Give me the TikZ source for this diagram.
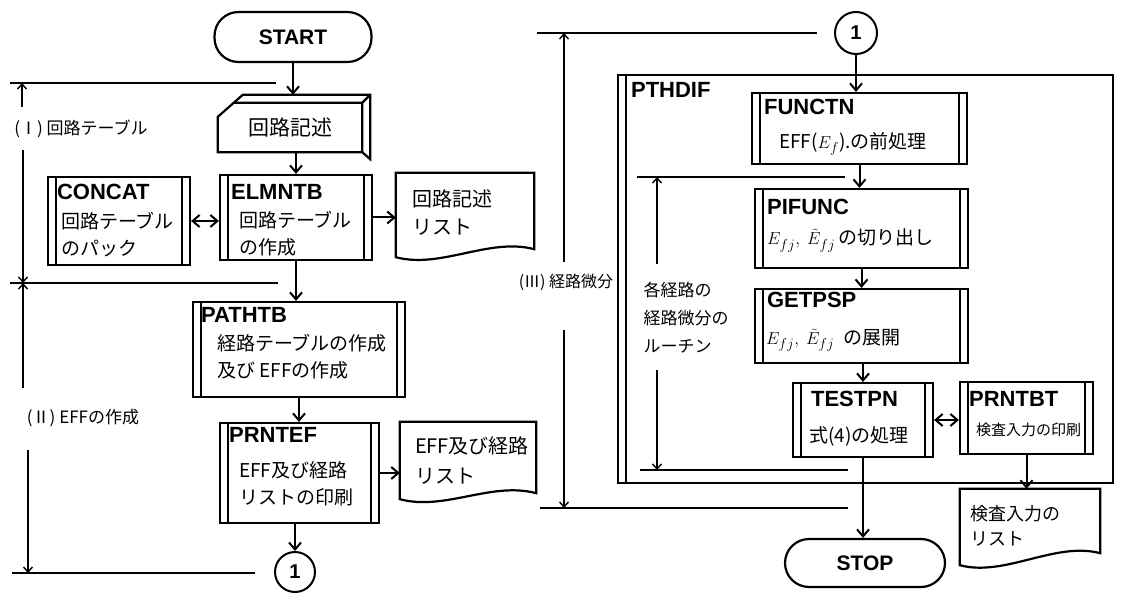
\documentclass[tikz,border=0pt]{standalone}
\usepackage{fontspec}
\setmainfont{Noto Sans CJK JP}
\newfontfamily\nmfont{Liberation Sans}
\usetikzlibrary{arrows.meta}

\begin{document}
\begin{tikzpicture}[x=1pt,y=-1pt,
  shp/.style={line width=2.2pt},
  box/.style={draw,line width=2.2pt,inner sep=0pt},
  pbox/.style={box,path picture={
    \draw[line width=2.2pt] ([xshift=8pt]path picture bounding box.north west) -- ([xshift=8pt]path picture bounding box.south west)
      ([xshift=-8pt]path picture bounding box.north east) -- ([xshift=-8pt]path picture bounding box.south east);}},
  term/.style={box,rounded corners=24pt,font=\nmfont\bfseries\fontsize{21}{21}\selectfont},
  con/.style={circle,draw,line width=2pt,inner sep=0pt,font=\nmfont\bfseries\fontsize{20}{20}\selectfont},
  nm/.style={anchor=north west,inner sep=0pt,font=\nmfont\bfseries\fontsize{22}{22}\selectfont},
  jp/.style={anchor=north west,inner sep=0pt,align=left,font=\fontsize{19}{27}\selectfont},
  lbl/.style={inner sep=0pt,font=\fontsize{17}{28}\selectfont},
  flow/.style={line width=2pt,-{Straight Barb[length=7pt,width=12pt]}},
  dflow/.style={line width=2pt,{Straight Barb[length=7pt,width=12pt]}-{Straight Barb[length=7pt,width=12pt]}},
  dim/.style={line width=1.4pt,-{Straight Barb[length=5pt,width=9pt]}},
  rule/.style={line width=1.8pt}]
\path[use as bounding box] (0,0) rectangle (1123,593);

% left column
\node[term,minimum width=157,minimum height=50] (start) at (293,37) {START};
\node[inner sep=0pt,minimum width=144,minimum height=49,font=\fontsize{21}{21}\selectfont] (kairo) at (290,127.5) {回路記述};
\draw[shp] ([yshift=-14pt]kairo.north west) -- ([shift={(25,-8)}]kairo.north west) -- ([shift={(8,-8)}]kairo.north east)
  -- ([shift={(8,7)}]kairo.south east) -- (kairo.south east) -- (kairo.south west) -- cycle;
\draw[shp] ([xshift=16pt]kairo.north west) -- (kairo.north east) -- (kairo.south east)
  (kairo.north east) -- ([shift={(8,-8)}]kairo.north east);

\node[pbox,minimum width=142,minimum height=88] (concat) at (119,221) {};
\node[nm] (concat-n) at ([shift={(10,8)}]concat.north west) {CONCAT};
\node[jp] (concat-t) at ([shift={(14,36)}]concat.north west) {回路テーブル\\のパック};

\node[pbox,minimum width=152,minimum height=85] (elmntb) at (296,217.5) {};
\node[nm] (elmntb-n) at ([shift={(12,10)}]elmntb.north west) {ELMNTB};
\node[jp] (elmntb-t) at ([shift={(20,37)}]elmntb.north west) {回路テーブル\\の作成};

\node[inner sep=0pt,minimum width=138,minimum height=78] (lst1) at (465,212) {};
\draw[shp] (lst1.north west) -- (lst1.north east) -- ([yshift=2pt]lst1.south east)
  .. controls +(-45,-12) and +(45,12) .. ([yshift=-6pt]lst1.south west) -- cycle;
\node[jp,font=\fontsize{20}{28}\selectfont] (lst1-t) at ([shift={(16,17)}]lst1.north west) {回路記述\\リスト};

\node[pbox,minimum width=212,minimum height=95] (pathtb) at (299,349.5) {};
\node[nm] (pathtb-n) at ([shift={(9,6)}]pathtb.north west) {PATHTB};
\node[jp] (pathtb-t) at ([shift={(25,33)}]pathtb.north west) {経路テーブルの作成\\及び EFFの作成};

\node[pbox,minimum width=159,minimum height=100] (prntef) at (299.5,473) {};
\node[nm] (prntef-n) at ([shift={(10,5)}]prntef.north west) {PRNTEF};
\node[jp] (prntef-t) at ([shift={(20,39)}]prntef.north west) {EFF及び経路\\リストの印刷};

\node[inner sep=0pt,minimum width=136,minimum height=70] (lst2) at (468,457) {};
\draw[shp] (lst2.north west) -- (lst2.north east) -- ([yshift=-1pt]lst2.south east)
  .. controls +(-45,-12) and +(45,12) .. ([yshift=-7pt]lst2.south west) -- cycle;
\node[jp,font=\fontsize{20}{30}\selectfont] (lst2-t) at ([shift={(15,15)}]lst2.north west) {EFF及び経路\\リスト};

\node[con,minimum size=40] (con1) at (295,572) {1};

% right column
\node[con,minimum size=42] (con2) at (856,33) {1};
\node[box,minimum width=495,minimum height=408] (pthdif) at (865.5,279) {};
\draw[shp] ([xshift=9pt]pthdif.north west) -- ([xshift=9pt]pthdif.south west);
\node[nm] (pthdif-n) at ([shift={(14,8)}]pthdif.north west) {PTHDIF};

\node[pbox,minimum width=215,minimum height=71] (functn) at (859.5,128.5) {};
\node[nm] (functn-n) at ([shift={(13,7)}]functn.north west) {FUNCTN};
\node[jp] (functn-t) at ([shift={(28,40)}]functn.north west) {EFF($E_f$).の前処理};

\node[pbox,minimum width=213,minimum height=79] (pifunc) at (861.5,228.5) {};
\node[nm] (pifunc-n) at ([shift={(13,11)}]pifunc.north west) {PIFUNC};
\node[jp] (pifunc-t) at ([shift={(13,41)}]pifunc.north west) {$E_{fj},\ \tilde{E}_{fj}$\,の切り出し};

\node[pbox,minimum width=213,minimum height=74] (getpsp) at (861.5,326) {};
\node[nm] (getpsp-n) at ([shift={(13,4)}]getpsp.north west) {GETPSP};
\node[jp] (getpsp-t) at ([shift={(12,41)}]getpsp.north west) {$E_{fj},\ \tilde{E}_{fj}$\; の展開};

\node[pbox,minimum width=140,minimum height=74] (testpn) at (863,420) {};
\node[nm] (testpn-n) at ([shift={(19,9)}]testpn.north west) {TESTPN};
\node[jp] (testpn-t) at ([shift={(17,44)}]testpn.north west) {式(4)の処理};

\node[pbox,minimum width=133,minimum height=72] (prntbt) at (1026.5,418) {};
\node[nm] (prntbt-n) at ([shift={(10,10)}]prntbt.north west) {PRNTBT};
\node[jp,font=\fontsize{15}{15}\selectfont] (prntbt-t) at ([shift={(17,42)}]prntbt.north west) {検査入力の印刷};

\node[inner sep=0pt,minimum width=140,minimum height=70] (lst3) at (1030,524) {};
\draw[shp] (lst3.north west) -- (lst3.north east) -- ([yshift=6pt]lst3.south east)
  .. controls +(-45,-12) and +(45,12) .. ([yshift=-6pt]lst3.south west) -- cycle;
\node[jp,font=\fontsize{18}{25}\selectfont] (lst3-t) at ([shift={(10,16)}]lst3.north west) {検査入力の\\リスト};

\node[term,minimum width=160,minimum height=48] (stop) at (865,563) {STOP};

% flow
\draw[flow,shorten >=8pt] (start.south) -- (start.south |- kairo.north);
\draw[flow] (elmntb.north |- kairo.south) -- (elmntb.north);
\draw[dflow] (concat.east) -- (concat.east -| elmntb.west);
\draw[flow] (elmntb.east) -- (elmntb.east -| lst1.west);
\draw[flow] (elmntb.south) -- (elmntb.south |- pathtb.north);
\draw[flow] (pathtb.south) -- (pathtb.south |- prntef.north);
\draw[flow] (prntef.east) -- (prntef.east -| lst2.west);
\draw[flow] (con1.north |- prntef.south) -- (con1.north);
\draw[flow] (con2.south) -- (con2.south |- functn.north);
\draw[flow] (functn.south) -- (functn.south |- pifunc.north);
\draw[flow] (pifunc.south) -- (pifunc.south |- getpsp.north);
\draw[flow] (testpn.north |- getpsp.south) -- (testpn.north);
\draw[dflow] (testpn.east) -- (testpn.east -| prntbt.west);
\draw[flow] (prntbt.south) -- (prntbt.south |- lst3.north);
\draw[flow] (testpn.south) -- (testpn.south |- stop.north);

% section marks
\draw[rule] (10,83) -- (276,83);
\draw[rule] (10,283) -- (278,283);
\draw[rule] (12,573) -- (255,573);
\draw[rule] (537,33) -- (817,33);
\draw[rule] (540,508) -- (848,508);
\draw[rule] (637,177) -- (845,177);
\draw[rule] (640,470) -- (848,470);
\coordinate (s1t) at (22,83);
\coordinate (s1b) at (23,283);
\coordinate (s2b) at (28,573);
\coordinate (s3t) at (564,33);
\coordinate (s3b) at (564,508);
\coordinate (rt) at (657,177);
\coordinate (rb) at (657,470);
\node[lbl] (sec1) at (81,129) {(Ⅰ) 回路テーブル};
\node[lbl] (sec2) at (83,418) {(Ⅱ) EFFの作成};
\node[lbl,font=\fontsize{16}{16}\selectfont] (sec3) at (566,282) {(Ⅲ) 経路微分};
\node[lbl,align=left] (rtn) at (686,318) {各経路の\\経路微分の\\ルーチン};
\draw[dim,shorten <=13pt] (sec1.north -| s1t) -- (s1t);
\draw[dim,shorten <=12pt] (sec1.south -| s1b) -- (s1b);
\draw[dim,shorten <=21pt] (sec2.north -| s1b) -- (s1b);
\draw[dim,shorten <=23pt] (sec2.south -| s2b) -- (s2b);
\draw[dim,shorten <=12pt] (sec3.north -| s3t) -- (s3t);
\draw[dim,shorten <=40pt] (sec3.south -| s3b) -- (s3b);
\draw[dim,shorten <=18pt] (rtn.north -| rt) -- (rt);
\draw[dim,shorten <=16pt] (rtn.south -| rb) -- (rb);
\end{tikzpicture}
\end{document}
